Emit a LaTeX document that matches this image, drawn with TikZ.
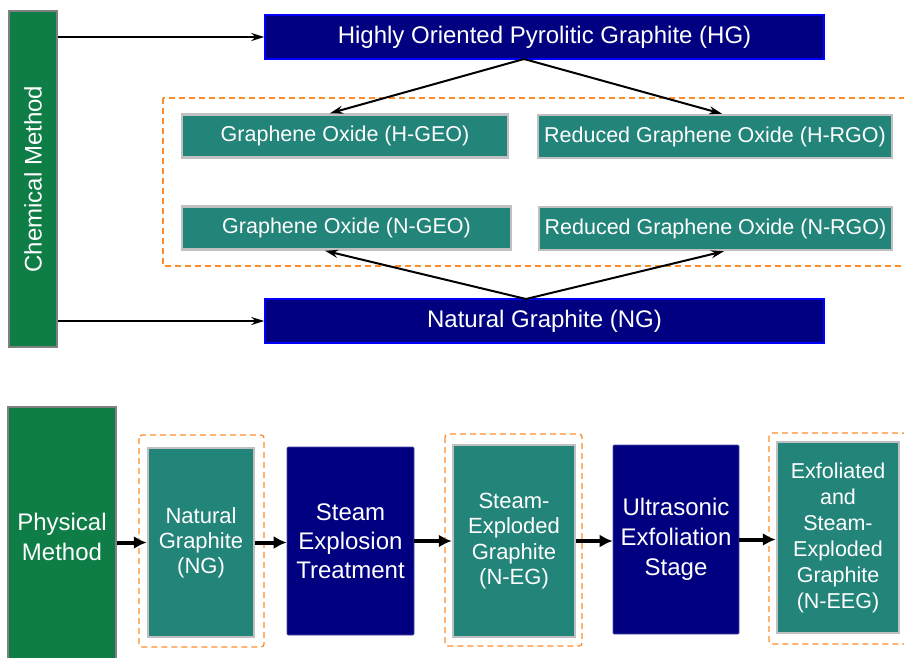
\documentclass[tikz,border=0pt]{standalone}
\usepackage{fontspec}
\setmainfont{Liberation Sans}
\usetikzlibrary{arrows.meta,calc}
\definecolor{chemgreen}{RGB}{15,125,70}
\definecolor{tealbox}{RGB}{35,132,122}
\definecolor{navybox}{RGB}{0,0,128}
\definecolor{brightblue}{RGB}{0,0,255}
\definecolor{dashorange}{RGB}{255,140,40}
\definecolor{lightgrayb}{RGB}{192,192,192}
\begin{document}
\begin{tikzpicture}[x=1pt,y=-1pt,
 txt/.style={text=white, align=center, inner sep=0pt},
 methodbox/.style={draw=gray, line width=2pt, fill=chemgreen, txt},
 prodbox/.style={draw=lightgrayb, line width=2.5pt, fill=tealbox, txt},
 topbox/.style={draw=brightblue, line width=1.5pt, fill=navybox, txt},
 procbox/.style={draw=navybox!70!white, line width=0.6pt, fill=navybox, rounded corners=1pt, txt},
 groupbox/.style={draw=dashorange, line width=1.3pt, dash pattern=on 6pt off 4pt, rounded corners=3pt},
 thinarr/.style={line width=2pt, -{Stealth[length=13pt,width=8pt]}},
 thickarr/.style={line width=4pt, -{Latex[length=13pt,width=13pt]}},
 f24/.style={font=\fontsize{24}{28}\selectfont},
 f21/.style={font=\fontsize{21.5}{25}\selectfont},
]
\useasboundingbox (0,0) rectangle (904,657);

% ---------- chemical method ----------
\draw[groupbox, rounded corners=0pt] (163,98) rectangle (906,266);
\node[methodbox, f24, rotate=90, minimum width=336pt, minimum height=48pt] (chem) at (33,179) {Chemical Method};
\node[topbox, f24, minimum width=559pt, minimum height=44pt] (HG) at (544.5,37) {Highly Oriented Pyrolitic Graphite (HG)};
\node[topbox, f24, minimum width=559pt, minimum height=44pt] (NGt) at (544.5,321) {Natural Graphite (NG)};
\node[prodbox, f21, minimum width=326pt, minimum height=43pt] (HGEO) at (345,136) {Graphene Oxide (H-GEO)};
\node[prodbox, f21, minimum width=354pt, minimum height=43pt] (HRGO) at (715,136.5) {Reduced Graphene Oxide (H-RGO)};
\node[prodbox, f21, minimum width=329pt, minimum height=43pt] (NGEO) at (346.5,228) {Graphene Oxide (N-GEO)};
\node[prodbox, f21, minimum width=353pt, minimum height=43pt] (NRGO) at (715.5,228.5) {Reduced Graphene Oxide (N-RGO)};

\coordinate (hgapex) at (524,59);
\coordinate (ngapex) at (526,299);

\draw[thinarr] (chem.south |- HG) -- (HG.west);
\draw[thinarr] (chem.south |- NGt) -- (NGt.west);
\draw[thinarr] (hgapex) -- ([xshift=-15pt]HGEO.north);
\draw[thinarr] (hgapex) -- ([xshift=7pt]HRGO.north);
\draw[thinarr] (ngapex) -- ([xshift=-21.5pt]NGEO.south);
\draw[thinarr] (ngapex) -- ([xshift=8.5pt]NRGO.south);

% ---------- physical method ----------
\node[methodbox, font=\fontsize{24}{30}\selectfont, minimum width=108pt, minimum height=260pt] (phys) at (62,537) {Physical\\Method};

\draw[groupbox] (139,435) rectangle (264,647);
\node[prodbox, font=\fontsize{22}{25}\selectfont, minimum width=106pt, minimum height=189pt] (ng2) at (201,542.5) {Natural\\Graphite\\(NG)};

\node[procbox, font=\fontsize{24}{29}\selectfont, minimum width=127pt, minimum height=188pt] (steam) at (350.5,541) {Steam\\Explosion\\Treatment};

\draw[groupbox] (445,434) rectangle (582,646);
\node[prodbox, font=\fontsize{22}{25.5}\selectfont, minimum width=122pt, minimum height=192pt] (neg) at (514,541) {Steam-\\Exploded\\Graphite\\(N-EG)};

\node[procbox, font=\fontsize{24}{30}\selectfont, minimum width=126pt, minimum height=189pt] (ultra) at (676,539.5) {Ultrasonic\\Exfoliation\\Stage};

\draw[groupbox] (769,433) rectangle (906,644);
\node[prodbox, font=\fontsize{21.5}{26}\selectfont, minimum width=122pt, minimum height=191pt] (neeg) at (838,537.5) {Exfoliated\\and\\Steam-\\Exploded\\Graphite\\(N-EEG)};

\draw[thickarr] (phys.east |- ng2.west) -- (ng2.west);
\draw[thickarr] (ng2.east) -- (steam.west |- ng2.east);
\draw[thickarr] (steam.east) -- (neg.west |- steam.east);
\draw[thickarr] (neg.east) -- (ultra.west |- neg.east);
\draw[thickarr] (ultra.east) -- (neeg.west |- ultra.east);
\end{tikzpicture}
\end{document}
